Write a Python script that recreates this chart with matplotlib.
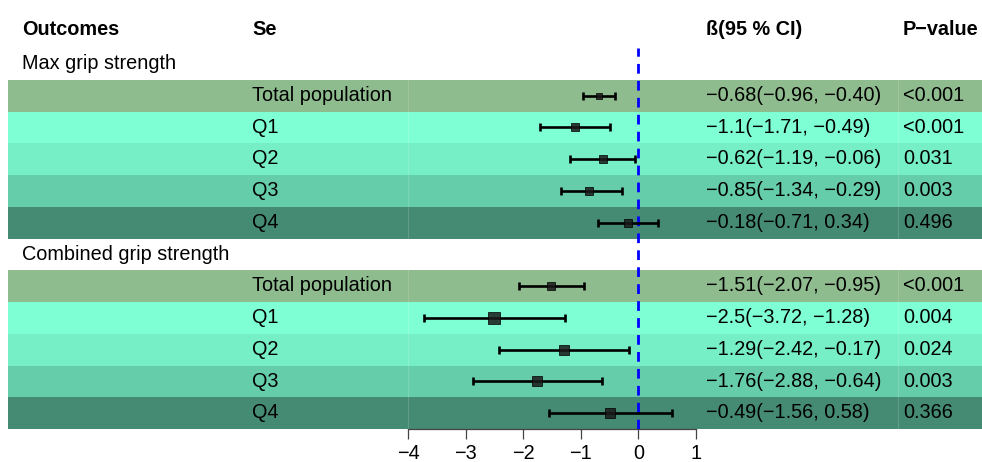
import matplotlib
matplotlib.use("Agg")
import matplotlib.pyplot as plt
import numpy as np

plt.rcParams['font.family'] = ['Liberation Sans', 'DejaVu Sans']

# ---------------- data ----------------
headers = ["Outcomes", "Se", "ß(95 % CI)", "P\u2212value"]
groups = ["Max grip strength", "Combined grip strength"]
subgroups = ["Total population", "Q1", "Q2", "Q3", "Q4"]

est_max = [-0.68, -1.1, -0.62, -0.85, -0.18]
lo_max = [-0.96, -1.71, -1.19, -1.34, -0.71]
hi_max = [-0.40, -0.49, -0.06, -0.29, 0.34]
p_max = ["<0.001", "<0.001", "0.031", "0.003", "0.496"]

est_comb = [-1.51, -2.5, -1.29, -1.76, -0.49]
lo_comb = [-2.07, -3.72, -2.42, -2.88, -1.56]
hi_comb = [-0.95, -1.28, -0.17, -0.64, 0.58]
p_comb = ["<0.001", "0.004", "0.024", "0.003", "0.366"]

xticks = [-4, -3, -2, -1, 0, 1]
ref_value = 0

# ---------------- styles ----------------
band_colors = ["#8FBC8F", "#7FFFD4", "#76EEC6", "#66CDAA", "#458B74"]
W, H = 982, 462
FS = 14.3

fig = plt.figure(figsize=(W / 100, H / 100), dpi=100)
bg = fig.add_axes([0, 0, 1, 1])
bg.set_xlim(0, W)
bg.set_ylim(H, 0)
bg.axis("off")

row_h = 31.75
top0 = 48.0
base_off = 5.3


def row_center(i):
    return top0 + (i - 0.5) * row_h


col_x = [22, 252, 706, 903]

# header
for x, t in zip(col_x, headers):
    bg.text(x, 30 + base_off, t, fontsize=FS, fontweight="bold", va="baseline", ha="left")


def fmt(v, g=False):
    s = f"{v:g}" if g else f"{v:.2f}"
    return s.replace("-", "\u2212")


rows = []
for gi, (gname, est, lo, hi, pv) in enumerate(
        [(groups[0], est_max, lo_max, hi_max, p_max),
         (groups[1], est_comb, lo_comb, hi_comb, p_comb)]):
    base = 1 + gi * 6
    bg.text(col_x[0], row_center(base) + base_off, gname, fontsize=FS, va="baseline")
    for k, sg in enumerate(subgroups):
        r = base + 1 + k
        yc = row_center(r)
        bg.add_patch(plt.Rectangle((8, yc - row_h / 2), W - 8, row_h,
                                   facecolor=band_colors[k], edgecolor="none", zorder=0))
        bg.text(col_x[1], yc + base_off, sg, fontsize=FS, va="baseline")
        bg.text(col_x[2], yc + base_off,
                f"{fmt(est[k], True)}({fmt(lo[k])}, {fmt(hi[k])})",
                fontsize=FS, va="baseline")
        bg.text(col_x[3], yc + base_off, pv[k], fontsize=FS, va="baseline")
        rows.append((r, est[k], lo[k], hi[k]))

# faint column separators
for xs in [408, 898]:
    for gi in range(2):
        base = 1 + gi * 6
        y0 = top0 + base * row_h
        bg.plot([xs, xs], [y0, y0 + 5 * row_h], color="white", alpha=0.15, lw=0.8, zorder=1)

# ---------------- forest axes ----------------
left, right = 408 / W, 696 / W
bottom_px, top_px = top0 + 12 * row_h, top0
ax = fig.add_axes([left, 1 - bottom_px / H, right - left, (bottom_px - top_px) / H])
ax.patch.set_alpha(0)
ax.set_xlim(-4, 1)
ax.set_ylim(12, 0)
for s in ["top", "right", "left"]:
    ax.spines[s].set_visible(False)
ax.spines["bottom"].set_color("#444444")
ax.spines["bottom"].set_linewidth(0.9)
ax.set_yticks([])
ax.set_xticks(xticks)
ax.tick_params(axis="x", length=7.5, width=0.9, color="#444444", labelsize=FS, pad=3)

ax.axvline(ref_value, color="#0000FF", lw=2.0, ls=(0, (3.5, 2.6)), zorder=3)

for r, e, l, h in rows:
    y = r - 0.5
    ax.errorbar([e], [y], xerr=[[e - l], [h - e]], fmt="none", ecolor="black",
                elinewidth=1.9, capsize=2.9, capthick=1.9, zorder=4)
    size_px = 7.2 * np.sqrt(h - l)
    ax.plot([e], [y], marker="s", ms=size_px * 0.72, color="#1a1a1a",
            mec="#000000", mew=0.6, alpha=0.85, zorder=5, ls="none")

fig.savefig("out.png", dpi=100)
